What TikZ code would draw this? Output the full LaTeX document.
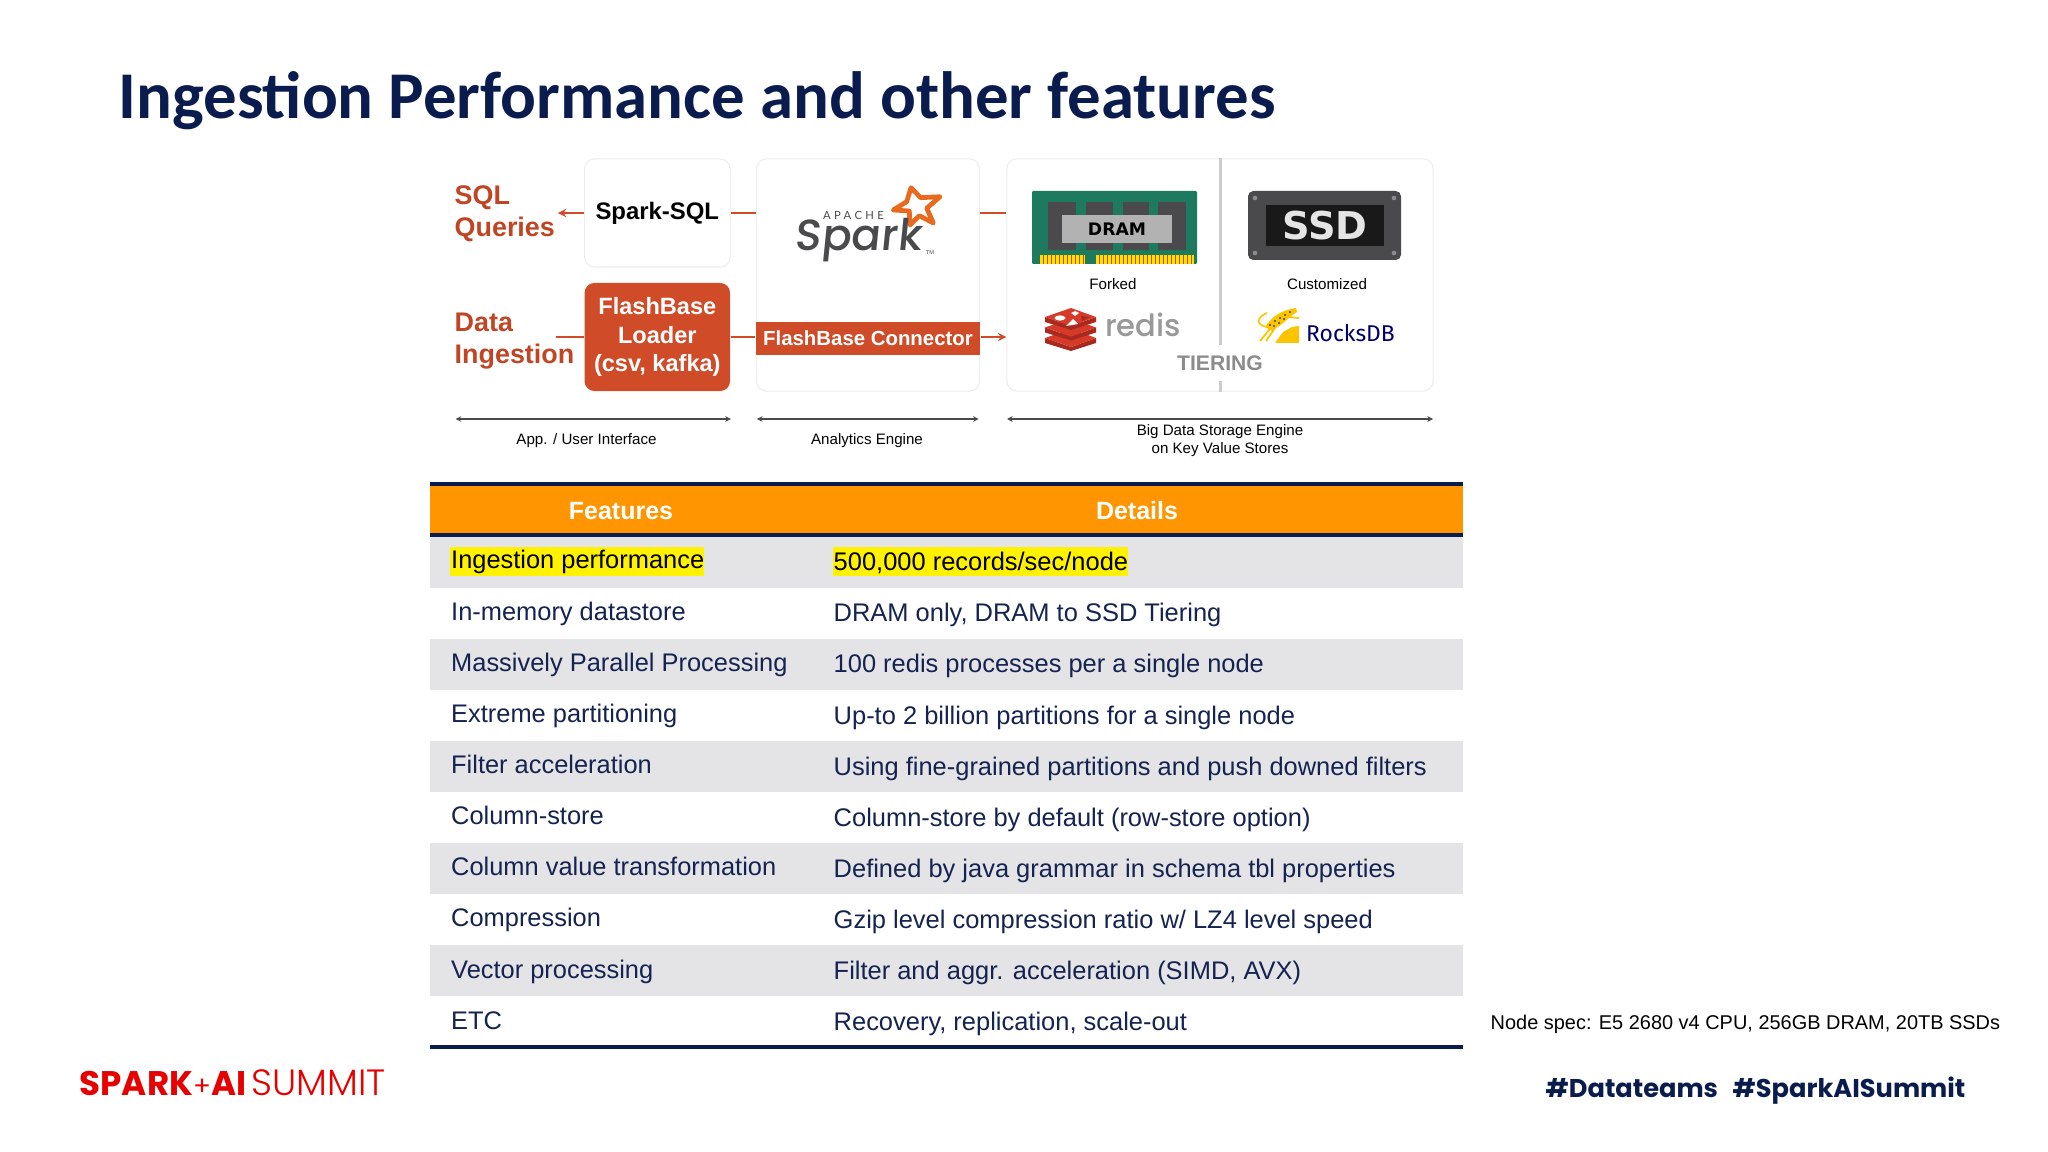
\documentclass[tikz,border=0pt]{standalone}
\usepackage{fontspec}
\usepackage{tikz}
\usetikzlibrary{shapes.geometric, arrows.meta}
\setmainfont{Liberation Sans}
\newfontfamily\titlefont{Carlito}
\newfontfamily\logofont{Poppins}
\newfontfamily\logolight{Poppins Light}
\newfontfamily\logomedium{Poppins Medium}
\newfontfamily\apachefont[LetterSpace=30]{Lato}
\newfontfamily\rocksfont{Fira Sans}
\newfontfamily\heavyfont{DejaVu Sans}
\definecolor{navy}{HTML}{0A1C4E}
\definecolor{rowtext}{HTML}{14234F}
\definecolor{rust}{HTML}{D04B27}
\definecolor{rowband}{HTML}{E4E4E7}
\definecolor{headbar}{HTML}{FF9500}
\definecolor{summitred}{HTML}{E60000}
\definecolor{dramgreen}{HTML}{1D7A5F}
\definecolor{chipgray}{HTML}{4A4A4C}
\definecolor{sparkorange}{HTML}{E96A1E}
\definecolor{redisface}{HTML}{D83A2A}
\definecolor{redisside}{HTML}{A82A1E}
\definecolor{rocksgold}{HTML}{FBC400}
\tikzset{
  frame/.style={draw=black!7, line width=0.3pt, rounded corners=2.8pt, inner sep=0pt},
  rustline/.style={draw=rust, line width=0.65pt},
  rusttip/.style={-{Stealth[length=2.4pt,width=2.4pt]}},
  span/.style={{Stealth[length=1.6pt,width=1.6pt]}-{Stealth[length=1.6pt,width=1.6pt]}, draw=chipgray, line width=0.4pt},
  caption/.style={font=\fontsize{4.3}{5.2}\selectfont, align=center, inner sep=0pt},
  ruslabel/.style={font=\fontsize{7.65}{9.2}\selectfont\bfseries, text=rust!92!black, align=left, anchor=west, inner sep=0pt},
  rowleft/.style={font=\fontsize{7.23}{8.5}\selectfont, text=rowtext, anchor=base west, inner sep=0pt},
  rowright/.style={font=\fontsize{7.24}{8.5}\selectfont, text=rowtext, anchor=base west, inner sep=0pt},
  headtext/.style={font=\fontsize{7.1}{8.5}\selectfont\bfseries, text=white, inner sep=0pt},
  tagtext/.style={font=\fontsize{7.3}{9}\selectfont\logofont\bfseries, text=navy, anchor=base west, inner sep=0pt},
}
\begin{document}
\begin{tikzpicture}[x=0.01cm, y=-0.01cm]
\useasboundingbox (0,0) rectangle (2048,1152);
\node[font=\fontsize{19}{22}\selectfont\titlefont\bfseries, text=navy, anchor=base west, inner sep=0pt] (title) at (118,119) {Ingestion Performance and other features};

\node[frame, minimum width=1.454cm, minimum height=1.08cm] (sqlbox) at (657.3,213) {};
\node[frame, minimum width=2.227cm, minimum height=2.32cm] (sparkbox) at (868,275) {};
\node[frame, minimum width=4.26cm, minimum height=2.32cm] (storage) at (1220,275) {};
\node[font=\fontsize{6.8}{8}\selectfont\bfseries, inner sep=0pt] (sparksql) at (657.3,213) {Spark-SQL};
\node[ruslabel] (sqllabel) at (454,214) {SQL\\Queries};
\node[ruslabel] (ingestlabel) at (454,341) {Data\\Ingestion};
\node[fill=rust, rounded corners=2.8pt, minimum width=1.454cm, minimum height=1.08cm, inner sep=0pt, text=white, align=center, font=\fontsize{6.7}{8.1}\selectfont\bfseries] (loader) at (657.3,337) {FlashBase\\Loader\\(csv, kafka)};
\node[fill=rust, minimum width=2.247cm, minimum height=0.33cm, inner sep=0pt, text=white, font=\fontsize{5.8}{7}\selectfont\bfseries] (connector) at (868,338.5) {FlashBase Connector};
\coordinate (sqlend) at (557.8,213);
\coordinate (ingestend) at (556,337);
\draw[rustline, rusttip] (sqlbox.west) -- (sqlend);
\draw[rustline] (sqlbox.east) -- (sparkbox.west |- sqlbox.east);
\draw[rustline] (sparkbox.east |- sqlbox.east) -- (storage.west |- sqlbox.east);
\draw[rustline] (ingestend) -- (loader.west);
\draw[rustline] (loader.east) -- (connector.west |- loader.east);
\draw[rustline, rusttip] (connector.east |- loader.east) -- (storage.west |- loader.east);

\draw[sparkorange, line width=1.35pt, line join=round, fill=white] (911,187.7) -- (920.7,197.7) -- (940,196.7) -- (926.7,208.3) -- (933.3,223) -- (919.3,215.7) -- (910,225) -- (909.3,211) -- (893.3,210) -- (906.7,201.7) -- cycle;
\node[font=\fontsize{12.4}{14}\selectfont\logomedium, text=chipgray, anchor=base, inner sep=0pt, xslant=0.1] (sparkword) at (858,251) {Spark};
\node[font=\fontsize{3.2}{4}\selectfont\apachefont, text=chipgray, inner sep=0pt] (apache) at (853.5,215.7) {APACHE};
\node[font=\fontsize{1.6}{2}\selectfont, text=chipgray, inner sep=0pt] (trade) at (930,252.7) {TM};

\draw[draw=black!20, line width=0.85pt] (storage.north) -- (storage.south);
\node[fill=white, minimum width=0.9cm, minimum height=0.35cm, inner sep=0pt, text=black!45, font=\fontsize{6}{7}\selectfont\bfseries] (tiering) at (1220,363) {TIERING};

\fill[dramgreen, rounded corners=0.3pt] (1032,191) rectangle (1197,264);
\fill[chipgray] (1048,202) rectangle (1076,250);
\fill[chipgray] (1086,202) rectangle (1113,250);
\fill[chipgray] (1123,202) rectangle (1149,250);
\fill[chipgray] (1158,202) rectangle (1186,250);
\node[fill=black!30, minimum width=1.1cm, minimum height=0.27cm, inner sep=0pt, font=\fontsize{4.9}{6}\selectfont\heavyfont\bfseries] (dramlabel) at (1117,229) {DRAM};
\fill[yellow!80!orange] (1040,255) rectangle (1085,264);
\fill[yellow!80!orange] (1096,255) rectangle (1194,264);
\foreach \px in {1043,1047,...,1083} \draw[orange!70!black, line width=0.2pt] (\px,255) -- (\px,264);
\foreach \px in {1099,1103,...,1191} \draw[orange!70!black, line width=0.2pt] (\px,255) -- (\px,264);
\node[caption] (forked) at (1113,284) {Forked};

\fill[chipgray, rounded corners=1.5pt] (1248,191) rectangle (1401,260);
\fill[black!90] (1266,205) rectangle (1384,246);
\foreach \sx/\sy in {1255/198,1394/198,1255/253,1394/253} \fill[black!45] (\sx,\sy) circle (2.3);
\node[font=\fontsize{10.9}{12}\selectfont\heavyfont\bfseries, text=black!10, inner sep=0pt] (ssdlabel) at (1325,226) {SSD};
\node[caption] (customized) at (1327,284) {Customized};

\foreach \ly in {329,318.5,308} {
  \fill[redisside] (1045,\ly+9) -- (1071,\ly+18) -- (1096,\ly+9) -- (1096,\ly+14) -- (1071,\ly+22) -- (1045,\ly+14) -- cycle;
  \fill[redisface] (1045,\ly+9) -- (1071,\ly) -- (1096,\ly+9) -- (1071,\ly+18) -- cycle;
}
\fill[white] (1060,318) ellipse (5.5 and 2.6);
\fill[white] (1071,313) -- (1075,311) -- (1079,313) -- (1075,316) -- cycle;
\fill[white] (1066,326) -- (1078,324) -- (1073,319) -- cycle;
\fill[redisside] (1081,316) -- (1090,317) -- (1082,321) -- cycle;
\node[font=\fontsize{8.7}{10}\selectfont\logomedium, text=black!40, anchor=base, inner sep=0pt] (redisword) at (1143,337) {redis};

\fill[rocksgold] (1275,343) -- (1283,332) -- (1292,327) -- (1299,326) -- (1299,343) -- cycle;
\fill[rocksgold] (1265,327) .. controls (1272,316) and (1282,310) .. (1296,308) -- (1297,312) .. controls (1290,316) and (1286,322) .. (1272,331) -- cycle;
\draw[rocksgold, line width=0.45pt] (1267,327) .. controls (1255,325) and (1257,317) .. (1267,313);
\draw[rocksgold, line width=0.5pt] (1270,329) -- (1260,341);
\draw[rocksgold, line width=0.5pt] (1275,328) -- (1266,341);
\draw[rocksgold, line width=0.5pt] (1287,317) -- (1299,318);
\foreach \dx/\dy in {1270/325,1275/321,1280/318,1285/315,1290/312,1274/326,1279/323,1284/319} \fill[black] (\dx,\dy) circle (0.8);
\node[font=\fontsize{6.5}{8}\selectfont\rocksfont, text=blue!40!black, anchor=base, inner sep=0pt] (rocksword) at (1350.5,341.5) {RocksDB};

\coordinate (appleft) at (455.6,419);
\coordinate (appright) at (730.8,419);
\coordinate (engleft) at (756.8,419);
\coordinate (engright) at (978.7,419);
\coordinate (stoleft) at (1007,419);
\coordinate (storight) at (1433,419);
\draw[span] (appleft) -- (appright);
\draw[span] (engleft) -- (engright);
\draw[span] (stoleft) -- (storight);
\node[caption] (applabel) at (586.5,440.5) {App. / User Interface};
\node[caption] (englabel) at (867,440.5) {Analytics Engine};
\node[caption] (stolabel) at (1220,440.3) {Big Data Storage Engine\\on Key Value Stores};

\fill[rowband] (430,537) rectangle (1463,588);
\fill[rowband] (430,639) rectangle (1463,690);
\fill[rowband] (430,741) rectangle (1463,792);
\fill[rowband] (430,843) rectangle (1463,894);
\fill[rowband] (430,945) rectangle (1463,996);
\fill[headbar] (430,484) rectangle (1463,535);
\draw[navy, line width=1.2pt] (430,484) -- (1463,484);
\draw[navy, line width=1.2pt] (430,535) -- (1463,535);
\draw[navy, line width=1.2pt] (430,1047) -- (1463,1047);
\fill[yellow] (450,547) rectangle (704,576);
\fill[yellow] (833,547) rectangle (1128,576);
\node[headtext] (features) at (621,511) {Features};
\node[headtext] (details) at (1137,511) {Details};

\node[rowleft, text=black] (rowa) at (450.5,568) {Ingestion performance};
\node[rowleft] (rowb) at (450.5,620) {In-memory datastore};
\node[rowleft] (rowc) at (450.5,671) {Massively Parallel Processing};
\node[rowleft] (rowd) at (450.5,722.5) {Extreme partitioning};
\node[rowleft] (rowe) at (450.5,773.5) {Filter acceleration};
\node[rowleft] (rowf) at (450.5,824.5) {Column-store};
\node[rowleft] (rowg) at (450.5,875.5) {Column value transformation};
\node[rowleft] (rowh) at (450.5,926.5) {Compression};
\node[rowleft] (rowi) at (450.5,978) {Vector processing};
\node[rowleft] (rowj) at (450.5,1029) {ETC};
\node[rowright, text=black] (deta) at (833,570.5) {500,000 records/sec/node};
\node[rowright] (detb) at (833,621.5) {DRAM only, DRAM to SSD Tiering};
\node[rowright] (detc) at (833,672.5) {100 redis processes per a single node};
\node[rowright] (detd) at (833,724) {Up-to 2 billion partitions for a single node};
\node[rowright] (dete) at (833,775) {Using fine-grained partitions and push downed filters};
\node[rowright] (detf) at (833,826) {Column-store by default (row-store option)};
\node[rowright] (detg) at (833,877) {Defined by java grammar in schema tbl properties};
\node[rowright] (deth) at (833,928) {Gzip level compression ratio w/ LZ4 level speed};
\node[rowright] (deti) at (833,979.5) {Filter and aggr. acceleration (SIMD, AVX)};
\node[rowright] (detj) at (833,1030.5) {Recovery, replication, scale-out};

\node[font=\fontsize{5.67}{7}\selectfont, anchor=west, inner sep=0pt] (nodespec) at (1490,1024) {Node spec: E5 2680 v4 CPU, 256GB DRAM, 20TB SSDs};
\node[text=summitred, anchor=base west, inner sep=0pt] (summit) at (79,1095) {\fontsize{9.7}{11}\selectfont{\logofont\bfseries SPARK}{\logofont\fontsize{7.5}{8}\selectfont +}{\logofont\bfseries AI}\hspace{1.5pt}{\logolight\fontsize{10.4}{11}\selectfont SUMMIT}};
\node[tagtext] (tagteams) at (1545,1097) {\#Datateams};
\node[tagtext] (tagsummit) at (1732,1097) {\#SparkAISummit};
\end{tikzpicture}
\end{document}
